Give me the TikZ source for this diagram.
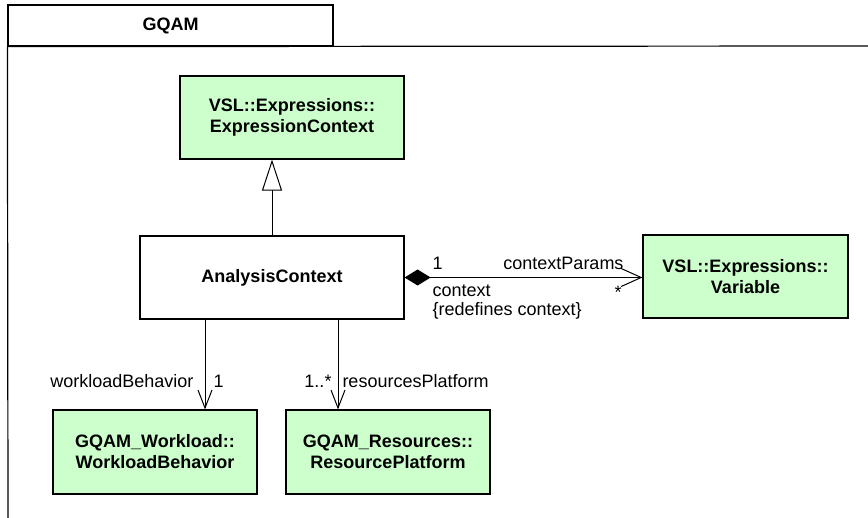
\documentclass[tikz,border=0pt]{standalone}
\usepackage{fontspec}
\setmainfont{Liberation Sans}
\usetikzlibrary{arrows.meta,calc}
\definecolor{umlgreen}{RGB}{204,255,204}

\begin{document}
\begin{tikzpicture}[x=0.5pt, y=-0.5pt, font=\fontsize{9}{10.5}\selectfont, line width=0.5pt]
    % Box and connector styles
    \tikzset{classbox/.style={rectangle, draw, line width=0.6pt, fill=umlgreen, align=center,
      minimum height=41.5pt, inner sep=2pt, font=\fontsize{9}{10.5}\selectfont\bfseries}}
    \tikzset{plainbox/.style={classbox, fill=white}}
    \tikzset{gen/.style={-{Triangle[open, length=15.5pt, width=10pt]}}}
    \tikzset{nav/.style={-{Straight Barb[length=9pt, width=7pt]}}}
    \tikzset{comp/.style={{Diamond[length=13pt, width=8pt]}-{Straight Barb[length=10pt, width=9pt]}}}
    \tikzset{role/.style={inner sep=0pt}}
    \useasboundingbox (0,0) rectangle (868,518);

    % Package frame with tab
    \node[draw, line width=0.6pt, minimum width=162.5pt, minimum height=20.5pt,
          font=\fontsize{9}{10.5}\selectfont\bfseries] (pkg) at (170.5,25.5) {GQAM};
    \coordinate (frameright) at (868,46);
    \coordinate (framebottom) at (8,518);
    \draw[line width=0.6pt] (pkg.south west) -- (frameright);
    \draw[line width=0.6pt] (pkg.south west) -- (framebottom);

    % Classes
    \node[classbox, minimum width=112pt]   (exprctx)  at (292,117.5) {VSL::Expressions::\\ExpressionContext};
    \node[plainbox, minimum width=132pt]   (analysis) at (272,277.5) {AnalysisContext};
    \node[classbox, minimum width=102.5pt] (variable) at (745.5,276.5) {VSL::Expressions::\\Variable};
    \node[classbox, minimum width=102pt, minimum height=42pt] (workload) at (155,452) {GQAM\_Workload::\\WorkloadBehavior};
    \node[classbox, minimum width=102pt, minimum height=42pt] (resplat)  at (388,452) {GQAM\_Resources::\\ResourcePlatform};

    % Connectors
    \draw[gen]  (analysis.north) -- (analysis.north |- exprctx.south);
    \draw[comp] (analysis.east) -- (analysis.east -| variable.west);
    \draw[nav]  ([xshift=-33.5pt]analysis.south) -- ([xshift=-33.5pt]analysis.south |- workload.north);
    \draw[nav]  ([xshift=33pt]analysis.south) -- ([xshift=33pt]analysis.south |- resplat.north);

    % Role names and multiplicities
    \node[role, anchor=west] (compone)  at (432,263) {1};
    \node[role, anchor=east] (params)   at (624,263) {contextParams};
    \node[role, anchor=west] (ctxrole)  at (432,291) {context};
    \node[role, anchor=west] (redef)    at (432,311) {\{redefines context\}};
    \node[role]              (compmany) at (618,292) {*};
    \node[role, anchor=east] (wlrole)   at (194,381) {workloadBehavior};
    \node[role, anchor=west] (wlone)    at (213,381) {1};
    \node[role, anchor=east] (rpmany)   at (332,381) {1..*};
    \node[role, anchor=west] (rprole)   at (342,381) {resourcesPlatform};
\end{tikzpicture}
\end{document}
